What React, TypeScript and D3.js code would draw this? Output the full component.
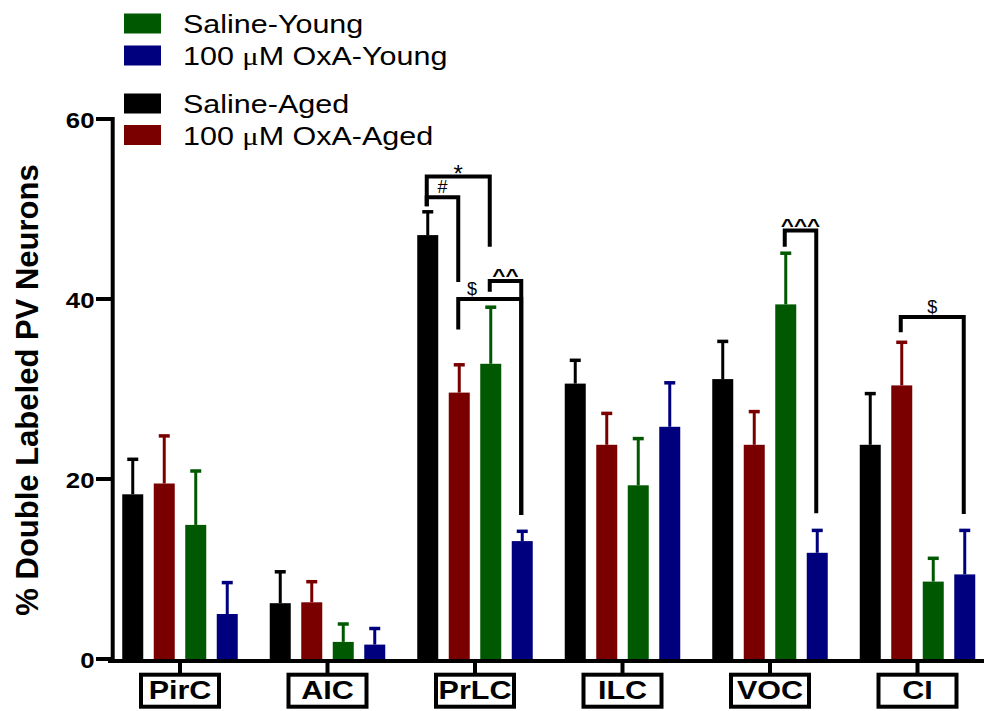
import React from "react";
import * as d3 from "d3";

const categories = ["PirC", "AIC", "PrLC", "ILC", "VOC", "CI"];
const seriesNames = ["Saline-Aged", "100 \u03bcM OxA-Aged", "Saline-Young", "100 \u03bcM OxA-Young"];
const seriesColors = ["#000000", "#7a0000", "#005800", "#00007e"];

// mean values per series across categories
const salineAged = [18.3, 6.2, 47.1, 30.6, 31.1, 23.8];
const oxaAged = [19.5, 6.3, 29.6, 23.8, 23.8, 30.4];
const salineYoung = [14.9, 1.9, 32.8, 19.3, 39.4, 8.6];
const oxaYoung = [5.0, 1.6, 13.1, 25.8, 11.8, 9.4];

// SEM (upper error)
const salineAgedErr = [4.0, 3.6, 2.7, 2.7, 4.3, 5.8];
const oxaAgedErr = [5.4, 2.4, 3.2, 3.6, 3.8, 4.9];
const salineYoungErr = [6.1, 2.1, 6.4, 5.3, 5.8, 2.7];
const oxaYoungErr = [3.6, 1.9, 1.2, 5.0, 2.6, 5.0];

const yTicks = [0, 20, 40, 60];

// significance brackets
const bracketCats = ["PrLC", "PrLC", "PrLC", "PrLC", "VOC", "CI"];
const bracketFrom = [0, 0, 1, 2, 2, 1];
const bracketTo = [2, 1, 3, 3, 3, 3];
const bracketTop = [53.6, 51.3, 40.0, 42.0, 47.6, 38.0];
const bracketLeftEnd = [50.3, 50.3, 36.6, 40.8, 45.8, 36.3];
const bracketRightEnd = [45.8, 41.9, 16.0, 16.0, 16.2, 16.1];
const bracketLabels = ["*", "#", "$", "^^", "^^^", "$"];
const bracketLabelPos = [0.5, 0.5, 0.22, 0.5, 0.5, 0.5];

const legendOrder = [2, 3, 0, 1];

export default function App() {
  const W = 984;
  const H = 711;
  const values = [salineAged, oxaAged, salineYoung, oxaYoung];
  const errs = [salineAgedErr, oxaAgedErr, salineYoungErr, oxaYoungErr];

  const y = d3.scaleLinear().domain([0, 60]).range([659, 119]);
  const x0 = d3.scaleBand<string>().domain(categories).range([106.25, 991.25]);
  const x1 = d3
    .scaleBand<number>()
    .domain([0, 1, 2, 3])
    .range([10.75, 136.75])
    .paddingInner(1 / 3)
    .paddingOuter(1 / 6);
  const bw = x1.bandwidth();
  const cx = (cat: string, s: number) => (x0(cat) as number) + (x1(s) as number) + bw / 2;

  const font = "'Liberation Sans', Arial, Helvetica, sans-serif";
  const axisX = 112.7;
  const baseY = 661;

  const renderName = (name: string) => {
    const parts = name.split("\u03bc");
    if (parts.length === 1) return name;
    return (
      <>
        {parts[0]}
        <tspan fontFamily="'Liberation Serif', 'DejaVu Serif', serif">{"\u03bc"}</tspan>
        {parts[1]}
      </>
    );
  };

  return (
    <svg width={W} height={H} style={{ position: "absolute", left: 0, top: 0, background: "#fff" }}>
      <rect x={0} y={0} width={W} height={H} fill="#fff" />
      {/* bars */}
      {categories.map((cat, ci) =>
        values.map((vals, si) => {
          const xl = (x0(cat) as number) + (x1(si) as number);
          const v = vals[ci];
          const e = errs[si][ci];
          const c = cx(cat, si);
          return (
            <g key={cat + si}>
              <rect x={xl} y={y(v)} width={bw} height={y(0) - y(v)} fill={seriesColors[si]} />
              <line x1={c} x2={c} y1={y(v)} y2={y(v + e)} stroke={seriesColors[si]} strokeWidth={3} />
              <line x1={c - 5.5} x2={c + 5.5} y1={y(v + e) + 1} y2={y(v + e) + 1} stroke={seriesColors[si]} strokeWidth={3.5} />
            </g>
          );
        })
      )}
      {/* brackets */}
      {bracketCats.map((cat, i) => {
        const xa = cx(cat, bracketFrom[i]) - 1;
        const xb = cx(cat, bracketTo[i]) - 1;
        const yt = y(bracketTop[i]);
        const d = `M${xa},${y(bracketLeftEnd[i])}V${yt}H${xb}V${y(bracketRightEnd[i])}`;
        const lbl = bracketLabels[i];
        const isCaret = lbl.startsWith("^");
        const isStar = lbl === "*";
        const lx = xa + (xb - xa) * bracketLabelPos[i];
        const ly = isStar ? yt + 5 : isCaret ? yt + 1 : yt - 4;
        return (
          <g key={"b" + i}>
            <path d={d} fill="none" stroke="#000" strokeWidth={4} strokeLinejoin="miter" />
            <text
              transform={`translate(${lx},${ly})${isCaret ? " scale(1.25,1)" : ""}`}
              textAnchor="middle"
              fontFamily={font}
              fontSize={isStar ? 24 : 18}
              fontWeight={isCaret ? "bold" : "normal"}
              fill="#000"
            >
              {lbl}
            </text>
          </g>
        );
      })}
      {/* y axis */}
      <line x1={axisX} x2={axisX} y1={117} y2={663} stroke="#000" strokeWidth={4} />
      {yTicks.map((t) => (
        <g key={"yt" + t}>
          <line x1={96} x2={axisX} y1={y(t)} y2={y(t)} stroke="#000" strokeWidth={4} />
          <text
            transform={`translate(94.5,${y(t) + 9}) scale(1.12,1)`}
            textAnchor="end"
            fontFamily={font}
            fontWeight="bold"
            fontSize={23}
            fill="#000"
          >
            {t}
          </text>
        </g>
      ))}
      <text
        transform={`translate(38,390) rotate(-90)`}
        textAnchor="middle"
        fontFamily={font}
        fontWeight="bold"
        fontSize={31}
        fill="#000"
      >
        % Double Labeled PV Neurons
      </text>
      {/* x axis */}
      <line x1={108} x2={984} y1={baseY} y2={baseY} stroke="#000" strokeWidth={4} />
      {categories.map((cat) => {
        const c = (x0(cat) as number) + x0.bandwidth() / 2;
        return (
          <g key={"xc" + cat}>
            <line x1={c} x2={c} y1={baseY} y2={674} stroke="#000" strokeWidth={4} />
            <rect x={c - 39} y={674.7} width={78} height={32} fill="#fff" stroke="#000" strokeWidth={4} />
            <text
              transform={`translate(${c},699) scale(1.22,1)`}
              textAnchor="middle"
              fontFamily={font}
              fontWeight="bold"
              fontSize={25}
              fill="#000"
            >
              {cat}
            </text>
          </g>
        );
      })}
      {/* legend */}
      {legendOrder.map((si, k) => {
        const sy = [23.5, 55.5, 103.5, 135][k];
        const by = [33, 65, 113, 145][k];
        return (
          <g key={"lg" + si}>
            <rect x={124} y={sy - 10} width={37} height={20} fill={seriesColors[si]} />
            <text
              transform={`translate(183,${by}) scale(1.22,1)`}
              fontFamily={font}
              fontSize={25}
              fill="#000"
            >
              {renderName(seriesNames[si])}
            </text>
          </g>
        );
      })}
    </svg>
  );
}
